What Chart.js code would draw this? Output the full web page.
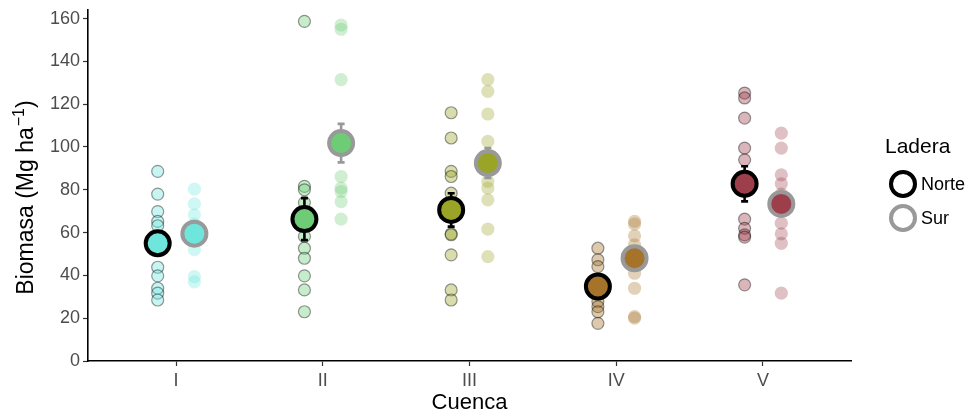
<!DOCTYPE html>
<html>
<head>
<meta charset="utf-8">
<script src="https://cdn.jsdelivr.net/npm/chart.js"></script>
<style>
  body { margin: 0; background: #fff; font-family: "Liberation Sans", Arial, sans-serif; }
  #wrap { position: relative; width: 979px; height: 417px; }
  .leg { position: absolute; color: #000; white-space: nowrap; line-height: 1; }
  .ring { position: absolute; width: 28px; height: 28px; box-sizing: border-box; border: 4px solid #000; border-radius: 50%; }
</style>
</head>
<body>
<div id="wrap">
  <canvas id="myChart" width="979" height="417"></canvas>
  <div class="leg" style="left:885px; top:135px; font-size:21px;">Ladera</div>
  <div class="ring" style="left:889px; top:170px;"></div>
  <div class="leg" style="left:921px; top:175px; font-size:18px;">Norte</div>
  <div class="ring" style="left:889px; top:204px; border-color:#999;"></div>
  <div class="leg" style="left:921px; top:209px; font-size:18px;">Sur</div>
</div>
<script>
const cuencas = ["I", "II", "III", "IV", "V"];
const colores = ["#6ee6dc", "#6dcc75", "#9aa426", "#a5732a", "#9d3f4b"];

// valores individuales por cuenca y ladera
const norteI = [88.6, 78, 69.8, 65.2, 63.2, 43.8, 39.8, 34, 31.7, 28.5];
const surI = [80.3, 73.4, 68.3, 64, 57, 52, 39.4, 37];
const norteII = [158.7, 81.6, 80, 74, 58.2, 52.7, 48, 39.8, 33.2, 23];
const surII = [157, 155, 131.5, 86.2, 80.8, 79.2, 74.5, 66.3];
const norteIII = [116, 104.2, 88.6, 86.2, 78.4, 59.4, 59, 49.6, 33.2, 28.5];
const surIII = [131.5, 126, 115.4, 102.6, 95, 83.9, 80.8, 75.3, 61.6, 48.8];
const norteIV = [52.7, 47.3, 44.1, 38, 27.8, 25.4, 23, 17.6];
const surIV = [65.2, 64, 58.5, 54.3, 41, 34, 20.7, 20];
const norteV = [125.2, 122.9, 113.5, 99.5, 94, 66.3, 62, 58.9, 57.9, 35.6];
const surV = [106.5, 99.5, 87, 82.8, 78, 64.4, 59.4, 55, 31.7];

// medias y error estándar
const mediaNorte = [55, 66.3, 70.6, 34.8, 82.8];
const mediaSur = [59.5, 101.8, 92.5, 48, 73.4];
const errorNorte = [4, 9.8, 7.8, 4, 8.2];
const errorSur = [4, 9, 7, 4, 4];

const yTicks = [0, 20, 40, 60, 80, 100, 120, 140, 160];

const norte = [norteI, norteII, norteIII, norteIV, norteV];
const sur = [surI, surII, surIII, surIV, surV];
const dodge = 0.125;

function alpha(hex, a) {
    const n = parseInt(hex.slice(1), 16);
    return `rgba(${n >> 16}, ${(n >> 8) & 255}, ${n & 255}, ${a})`;
}

const datasets = [];
cuencas.forEach((c, i) => {
    datasets.push({
        label: "Norte " + c,
        data: norte[i].map((v) => ({ x: i + 1 - dodge, y: v })),
        backgroundColor: alpha(colores[i], 0.38),
        borderColor: "rgba(0, 0, 0, 0.4)",
        borderWidth: 1.2,
        pointRadius: 6,
        order: 1,
    });
    datasets.push({
        label: "Sur " + c,
        data: sur[i].map((v) => ({ x: i + 1 + dodge, y: v })),
        backgroundColor: alpha(colores[i], 0.33),
        borderWidth: 0,
        pointRadius: 6.6,
        order: 1,
    });
});
datasets.push({
    label: "Norte",
    data: mediaNorte.map((v, i) => ({ x: i + 1 - dodge, y: v })),
    errores: errorNorte,
    errColor: "#000",
    backgroundColor: colores,
    borderColor: "#000",
    borderWidth: 4,
    pointRadius: 12,
    order: 0,
});
datasets.push({
    label: "Sur",
    data: mediaSur.map((v, i) => ({ x: i + 1 + dodge, y: v })),
    errores: errorSur,
    errColor: "#999999",
    backgroundColor: colores,
    borderColor: "#999999",
    borderWidth: 4,
    pointRadius: 12,
    order: 0,
});

const font = "'Liberation Sans', Arial, sans-serif";

// barras de error dibujadas antes de los puntos de la media
const errorBars = {
    id: "errorBars",
    beforeDatasetDraw(chart, args) {
        const ds = chart.data.datasets[args.index];
        if (!ds.errores) return;
        const { ctx, scales } = chart;
        ctx.save();
        ctx.strokeStyle = ds.errColor;
        ctx.lineWidth = 2.6;
        ds.data.forEach((p, i) => {
            const x = scales.x.getPixelForValue(p.x);
            const lo = scales.y.getPixelForValue(p.y - ds.errores[i]);
            const hi = scales.y.getPixelForValue(p.y + ds.errores[i]);
            ctx.beginPath();
            ctx.moveTo(x, lo);
            ctx.lineTo(x, hi);
            ctx.moveTo(x - 3.5, lo);
            ctx.lineTo(x + 3.5, lo);
            ctx.moveTo(x - 3.5, hi);
            ctx.lineTo(x + 3.5, hi);
            ctx.stroke();
        });
        ctx.restore();
    },
};

// título del eje y con superíndice
const yTitle = {
    id: "yTitle",
    afterDraw(chart) {
        const { ctx, chartArea } = chart;
        const main = "Biomasa (Mg ha";
        const sup = "\u22121";
        ctx.save();
        ctx.fillStyle = "#000";
        ctx.textBaseline = "alphabetic";
        ctx.font = "23px " + font;
        const w1 = ctx.measureText(main).width;
        const w3 = ctx.measureText(")").width;
        ctx.font = "16px " + font;
        const w2 = ctx.measureText(sup).width;
        const total = w1 + w2 + w3 + 1;
        const cy = (chartArea.top + chartArea.bottom) / 2 + 12;
        ctx.translate(33, cy);
        ctx.rotate(-Math.PI / 2);
        let x = -total / 2;
        ctx.font = "23px " + font;
        ctx.fillText(main, x, 0);
        x += w1 + 1;
        ctx.font = "16px " + font;
        ctx.fillText(sup, x, -9);
        x += w2;
        ctx.font = "23px " + font;
        ctx.fillText(")", x, 0);
        ctx.restore();
    },
};

new Chart(document.getElementById("myChart"), {
    type: "scatter",
    data: { datasets },
    plugins: [errorBars, yTitle],
    options: {
        responsive: false,
        animation: false,
        layout: { autoPadding: false, padding: { top: 10, right: 128, left: 0, bottom: 0 } },
        scales: {
            x: {
                type: "linear",
                min: 0.4,
                max: 5.6,
                afterBuildTicks: (scale) => {
                    scale.ticks = cuencas.map((_, i) => ({ value: i + 1 }));
                },
                afterFit: (scale) => {
                    scale.height = 56;
                    scale.paddingLeft = 0;
                    scale.paddingRight = 0;
                },
                ticks: {
                    callback: (v) => cuencas[v - 1],
                    color: "#4d4d4d",
                    font: { family: font, size: 18 },
                    padding: 4,
                },
                grid: {
                    drawOnChartArea: false,
                    tickLength: 5,
                    tickColor: "#333",
                    tickWidth: 1.2,
                },
                border: { color: "#000", width: 1.6 },
                title: {
                    display: true,
                    text: "Cuenca",
                    color: "#000",
                    font: { family: font, size: 22 },
                    padding: { top: 1, bottom: 1 },
                },
            },
            y: {
                min: 0,
                max: 164,
                afterBuildTicks: (scale) => {
                    scale.ticks = yTicks.map((v) => ({ value: v }));
                },
                afterFit: (scale) => {
                    scale.width = 88;
                    scale.paddingTop = 0;
                    scale.paddingBottom = 0;
                },
                ticks: {
                    color: "#4d4d4d",
                    font: { family: font, size: 18 },
                    padding: 3,
                },
                grid: {
                    drawOnChartArea: false,
                    tickLength: 5,
                    tickColor: "#333",
                    tickWidth: 1.2,
                },
                border: { color: "#000", width: 1.6 },
            },
        },
        plugins: {
            legend: { display: false },
            tooltip: { enabled: false },
        },
    },
});
</script>
</body>
</html>
